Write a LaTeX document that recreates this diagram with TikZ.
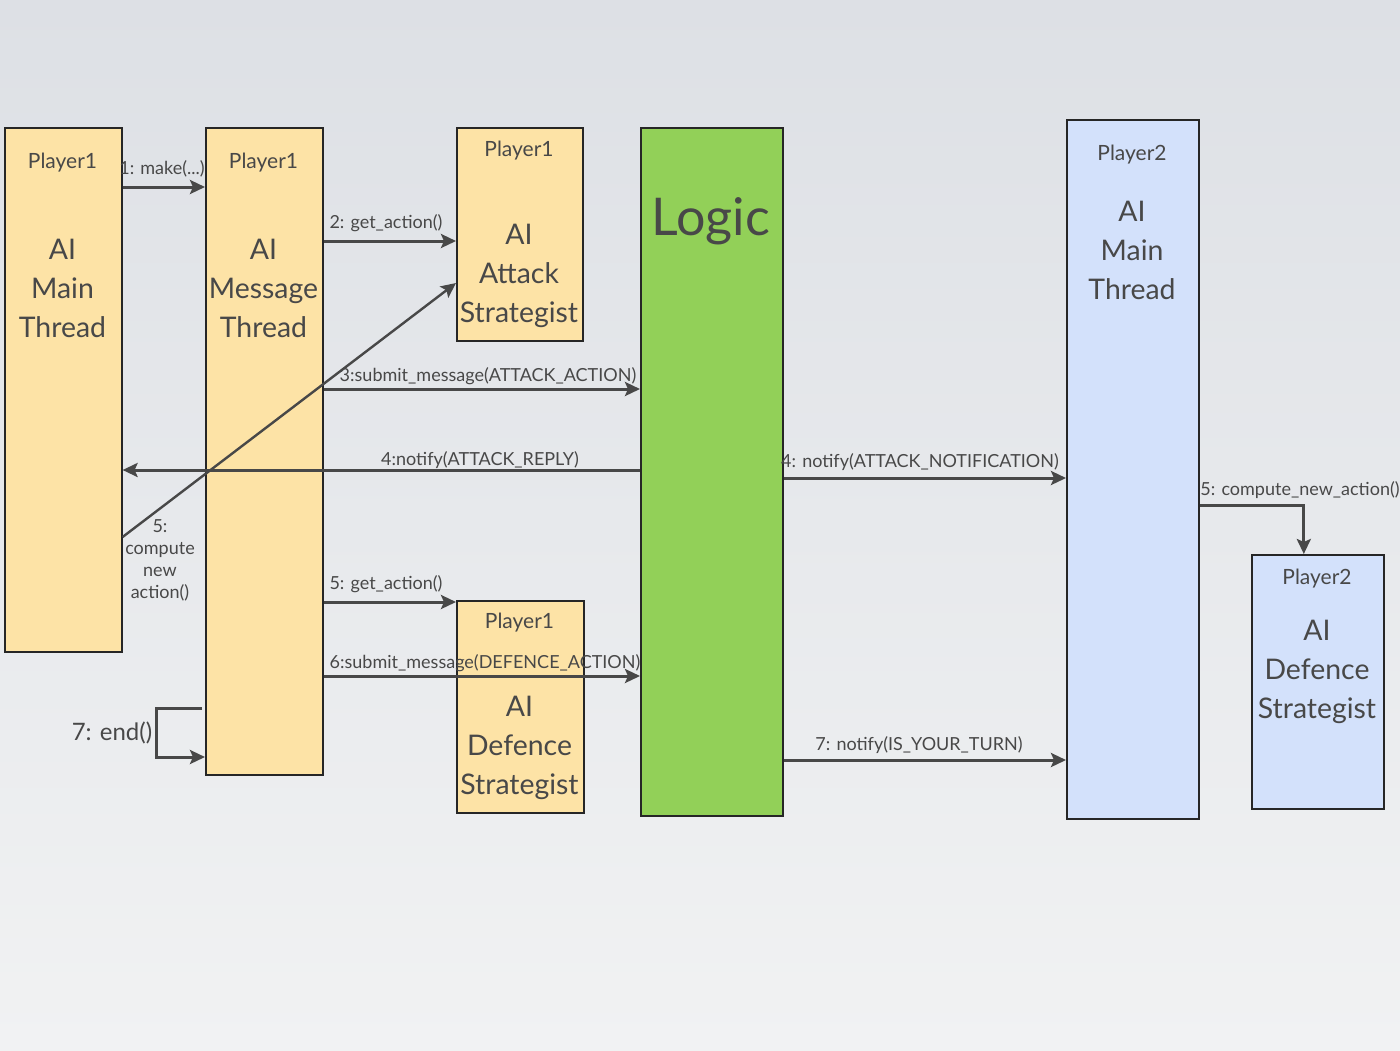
\documentclass[tikz,border=0pt]{standalone}
\usepackage{fontspec}
\setmainfont{Lato}
\usetikzlibrary{arrows.meta}
\definecolor{bgtop}{RGB}{221,224,229}
\definecolor{bgbot}{RGB}{241,242,243}
\definecolor{pale}{RGB}{253,227,166}
\definecolor{logicgreen}{RGB}{146,208,88}
\definecolor{paleblue}{RGB}{211,225,251}
\definecolor{ink}{RGB}{72,72,72}

\begin{document}
\begin{tikzpicture}[x=0.5pt,y=-0.5pt,
  box/.style={draw=black!85,line width=.8pt,anchor=north west,inner sep=0pt},
  yel/.style={box,fill=pale},
  blu/.style={box,fill=paleblue},
  who/.style={text=ink,inner sep=0pt,font=\fontsize{10.5}{13}\selectfont},
  role/.style={text=ink,inner sep=0pt,align=center,font=\fontsize{14.2}{19.5}\selectfont},
  msg/.style={draw=ink,line width=1.5pt,-{Stealth[length=7.5pt,width=7pt,inset=1.5pt]}},
  lbl/.style={text=ink,inner sep=0pt,font=\fontsize{9}{11}\selectfont}]
\shade[top color=bgtop,bottom color=bgbot] (0,0) rectangle (1400,1050);
\useasboundingbox (0,0) rectangle (1400,1050);

% lifelines
\node[yel,minimum width=58.5pt,minimum height=262pt] (mainA) at (4,127) {};
\node[yel,minimum width=58.5pt,minimum height=323.5pt] (msgA) at (205,127) {};
\node[yel,minimum width=63pt,minimum height=106.5pt] (atkA) at (456,127) {};
\node[yel,minimum width=63.5pt,minimum height=106pt] (defA) at (456,600) {};
\node[box,fill=logicgreen,minimum width=71pt,minimum height=344pt] (logic) at (640,127) {};
\node[blu,minimum width=66pt,minimum height=349.5pt] (mainB) at (1066,119) {};
\node[blu,minimum width=66pt,minimum height=127pt] (defB) at (1251,554) {};

\node[who] (mainAwho) at (62.5,163) {Player1};
\node[role] (mainArole) at (62.5,288) {AI\\Main\\Thread};
\node[who] (msgAwho) at (263.5,163) {Player1};
\node[role] (msgArole) at (263.5,288) {AI\\Message\\Thread};
\node[who] (atkAwho) at (519,151) {Player1};
\node[role] (atkArole) at (519,276) {AI\\Attack\\Strategist};
\node[who] (defAwho) at (519.5,623) {Player1};
\node[role] (defArole) at (519.5,748) {AI\\Defence\\Strategist};
\node[text=ink,inner sep=0pt,font=\fontsize{26}{30}\selectfont] (logictxt) at (711,221) {Logic};
\node[who] (mainBwho) at (1132,155) {Player2};
\node[role] (mainBrole) at (1132,250) {AI\\Main\\Thread};
\node[who] (defBwho) at (1317,579) {Player2};
\node[role] (defBrole) at (1317,672) {AI\\Defence\\Strategist};

% messages
\draw[msg] (mainA.east |- 0,187) -- (msgA.west |- 0,187);
\node[lbl] (m1) at (162,169) {1: make(...)};
\draw[msg] (msgA.east |- 0,241) -- (atkA.west |- 0,241);
\node[lbl] (m2) at (386,223) {2: get\_action()};
\draw[msg] (msgA.east |- 0,389) -- (logic.west |- 0,389);
\node[lbl] (m3) at (488,376) {3:submit\_message(ATTACK\_ACTION)};
\draw[msg] (logic.west |- 0,470) -- (mainA.east |- 0,470);
\node[lbl] (m4) at (480,460) {4:notify(ATTACK\_REPLY)};
\draw[msg] (logic.east |- 0,478) -- (mainB.west |- 0,478);
\node[lbl] (m4b) at (920,462) {4: notify(ATTACK\_NOTIFICATION)};
\draw[msg,line width=1.2pt] (mainA.east |- 0,537) -- (atkA.west |- 0,283);
\node[lbl,align=center] (m5) at (160,560) {5:\\compute\\new\\action()};
\draw[msg] (mainB.east |- 0,505) -| ([xshift=-7pt]defB.north);
\node[lbl] (m5b) at (1300,490) {5: compute\_new\_action()};
\draw[msg] (msgA.east |- 0,602) -- (defA.west |- 0,602);
\node[lbl] (m5c) at (386,584) {5: get\_action()};
\draw[msg] (msgA.east |- 0,676) -- (logic.west |- 0,676);
\node[lbl] (m6) at (485,663) {6:submit\_message(DEFENCE\_ACTION)};
\draw[msg] ([xshift=-1.5pt]msgA.west |- 0,708) -| (156,733) |- (msgA.west |- 0,757);
\node[text=ink,inner sep=0pt,font=\fontsize{12}{14}\selectfont] (m7) at (112,733) {7: end()};
\draw[msg] (logic.east |- 0,760) -- (mainB.west |- 0,760);
\node[lbl] (m7b) at (919,745) {7: notify(IS\_YOUR\_TURN)};
\end{tikzpicture}
\end{document}
